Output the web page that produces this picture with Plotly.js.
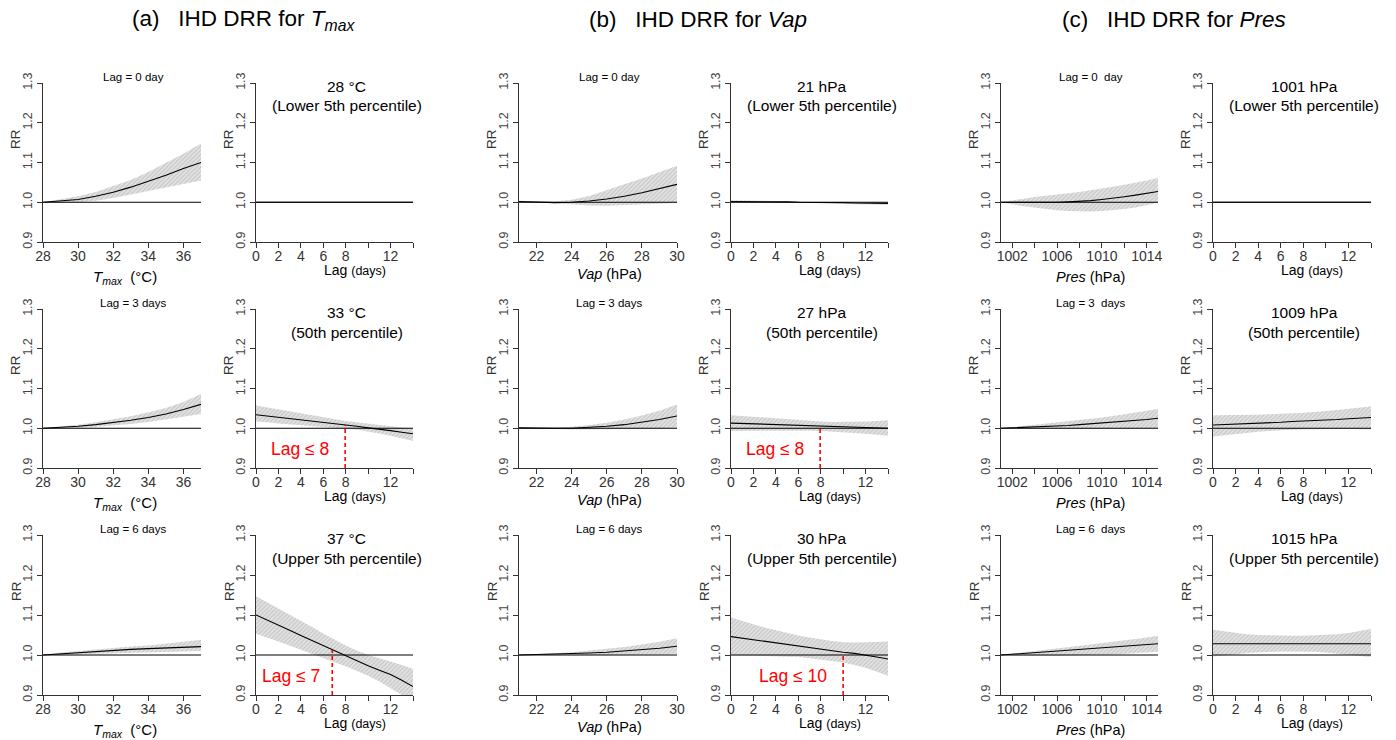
<!DOCTYPE html>
<html><head><meta charset="utf-8">
<script src="https://cdn.plot.ly/plotly-3.0.1.min.js"></script>
<style>html,body{margin:0;padding:0;background:#fff}#chart{width:1396px;height:740px}</style>
</head><body><div id="chart"></div>
<script>
// ---------------- DATA ----------------
const tmaxX = [28,29,30,31,32,33,34,35,36,37];
const vapX  = [21,22,23,24,25,26,27,28,29,30];
const presX = [1001,1002,1003,1004,1005,1006,1007,1008,1009,1010,1011,1012,1013,1014,1015];
const lagX  = [0,1,2,3,4,5,6,7,8,9,10,11,12,13,14];

// (a) Tmax exposure-response at lag 0, 3, 6
const tmaxLag0Fit = [1.000,1.003,1.007,1.015,1.025,1.038,1.052,1.068,1.085,1.100];
const tmaxLag0Lo  = [1.000,0.999,1.000,1.004,1.011,1.019,1.028,1.037,1.046,1.055];
const tmaxLag0Hi  = [1.000,1.007,1.015,1.026,1.040,1.056,1.076,1.098,1.122,1.148];
const tmaxLag3Fit = [1.000,1.002,1.005,1.009,1.014,1.020,1.027,1.036,1.047,1.060];
const tmaxLag3Lo  = [1.000,1.000,1.001,1.004,1.007,1.011,1.016,1.022,1.029,1.036];
const tmaxLag3Hi  = [1.000,1.004,1.009,1.015,1.022,1.030,1.040,1.051,1.066,1.086];
const tmaxLag6Fit = [1.000,1.003,1.006,1.009,1.012,1.014,1.016,1.018,1.020,1.021];
const tmaxLag6Lo  = [1.000,1.000,1.002,1.003,1.005,1.006,1.007,1.008,1.009,1.010];
const tmaxLag6Hi  = [1.000,1.006,1.010,1.014,1.018,1.021,1.024,1.028,1.033,1.038];
// (a) Tmax lag-response at 28, 33, 37 °C
const tmax28Fit = [1,1,1,1,1,1,1,1,1,1,1,1,1,1,1];
const tmax28Lo  = [1,1,1,1,1,1,1,1,1,1,1,1,1,1,1];
const tmax28Hi  = [1,1,1,1,1,1,1,1,1,1,1,1,1,1,1];
const tmax33Fit = [1.034,1.031,1.027,1.024,1.021,1.018,1.014,1.011,1.008,1.005,1.001,0.998,0.994,0.990,0.986];
const tmax33Hi  = [1.057,1.052,1.047,1.042,1.037,1.032,1.027,1.022,1.018,1.015,1.011,1.008,1.005,1.002,0.999];
const tmax33Lo  = [1.017,1.015,1.012,1.010,1.008,1.006,1.003,1.001,0.999,0.996,0.992,0.987,0.981,0.975,0.968];
const tmax37Fit = [1.100,1.088,1.075,1.062,1.049,1.036,1.023,1.010,0.998,0.986,0.973,0.962,0.951,0.937,0.921];
const tmax37Hi  = [1.147,1.132,1.117,1.101,1.086,1.070,1.054,1.038,1.024,1.011,1.000,0.992,0.984,0.975,0.965];
const tmax37Lo  = [1.053,1.044,1.034,1.024,1.013,1.002,0.992,0.982,0.972,0.961,0.948,0.934,0.918,0.900,0.880];

// (b) Vap exposure-response at lag 0, 3, 6
const vapLag0Fit = [1.002,1.001,0.999,1.000,1.003,1.008,1.015,1.024,1.034,1.045];
const vapLag0Lo  = [1.000,1.000,0.997,0.995,0.992,0.991,0.992,0.994,0.996,0.998];
const vapLag0Hi  = [1.004,1.002,1.002,1.006,1.016,1.030,1.045,1.060,1.076,1.092];
const vapLag3Fit = [1.001,1.000,1.000,1.000,1.002,1.005,1.009,1.015,1.022,1.031];
const vapLag3Lo  = [1.000,0.999,0.998,0.997,0.997,0.997,0.998,0.999,1.000,1.002];
const vapLag3Hi  = [1.002,1.001,1.002,1.004,1.008,1.014,1.022,1.032,1.044,1.060];
const vapLag6Fit = [1.000,1.001,1.002,1.003,1.005,1.007,1.010,1.013,1.017,1.022];
const vapLag6Lo  = [1.000,1.000,1.000,1.000,1.000,1.000,1.001,1.001,1.002,1.003];
const vapLag6Hi  = [1.000,1.002,1.004,1.007,1.011,1.015,1.020,1.026,1.033,1.042];
// (b) Vap lag-response at 21, 27, 30 hPa
const vap21Fit = [1.002,1.002,1.002,1.001,1.001,1.001,1.000,1.000,0.999,0.999,0.999,0.998,0.998,0.997,0.997];
const vap21Lo  = [0.999,0.999,0.999,0.999,0.999,0.999,0.998,0.998,0.997,0.997,0.996,0.995,0.995,0.994,0.994];
const vap21Hi  = [1.005,1.005,1.004,1.004,1.003,1.003,1.002,1.002,1.001,1.001,1.001,1.001,1.001,1.000,1.000];
const vap27Fit = [1.013,1.012,1.011,1.010,1.009,1.008,1.007,1.006,1.005,1.004,1.003,1.002,1.002,1.001,1.000];
const vap27Hi  = [1.033,1.031,1.028,1.026,1.024,1.022,1.020,1.018,1.017,1.016,1.016,1.016,1.017,1.018,1.020];
const vap27Lo  = [0.993,0.993,0.994,0.994,0.994,0.994,0.994,0.994,0.993,0.992,0.990,0.988,0.986,0.984,0.981];
const vap30Fit = [1.046,1.042,1.038,1.034,1.030,1.026,1.022,1.018,1.014,1.010,1.007,1.004,1.000,0.995,0.990];
const vap30Hi  = [1.094,1.085,1.077,1.069,1.062,1.055,1.049,1.044,1.039,1.035,1.032,1.031,1.032,1.033,1.034];
const vap30Lo  = [0.999,0.999,0.998,0.998,0.997,0.996,0.995,0.992,0.989,0.985,0.981,0.975,0.968,0.959,0.948];

// (c) Pres exposure-response at lag 0, 3, 6
const presLag0Fit = [1.000,1.000,0.999,0.999,0.999,1.000,1.001,1.002,1.004,1.007,1.010,1.014,1.018,1.022,1.027];
const presLag0Hi  = [1.000,1.005,1.009,1.013,1.016,1.019,1.022,1.026,1.030,1.034,1.039,1.044,1.049,1.055,1.061];
const presLag0Lo  = [1.000,0.995,0.990,0.986,0.983,0.980,0.978,0.977,0.977,0.978,0.980,0.983,0.987,0.993,0.999];
const presLag3Fit = [1.000,1.001,1.002,1.003,1.004,1.006,1.007,1.009,1.011,1.013,1.015,1.017,1.020,1.022,1.025];
const presLag3Hi  = [1.000,1.003,1.005,1.008,1.011,1.014,1.017,1.020,1.024,1.027,1.031,1.035,1.040,1.044,1.049];
const presLag3Lo  = [1.000,0.999,0.998,0.998,0.998,0.998,0.998,0.998,0.998,0.999,0.999,1.000,1.000,1.000,1.001];
const presLag6Fit = [1.000,1.002,1.004,1.006,1.008,1.010,1.012,1.014,1.016,1.018,1.020,1.022,1.024,1.026,1.028];
const presLag6Hi  = [1.000,1.004,1.007,1.010,1.013,1.016,1.019,1.023,1.026,1.030,1.033,1.037,1.040,1.044,1.048];
const presLag6Lo  = [1.000,0.999,0.998,0.998,0.998,0.998,0.999,0.999,1.000,1.001,1.002,1.003,1.005,1.006,1.008];
// (c) Pres lag-response at 1001, 1009, 1015 hPa
const pres1001Fit = [1,1,1,1,1,1,1,1,1,1,1,1,1,1,1];
const pres1001Lo  = [1,1,1,1,1,1,1,1,1,1,1,1,1,1,1];
const pres1001Hi  = [1,1,1,1,1,1,1,1,1,1,1,1,1,1,1];
const pres1009Fit = [1.008,1.009,1.010,1.011,1.013,1.014,1.015,1.017,1.018,1.019,1.021,1.022,1.024,1.025,1.027];
const pres1009Hi  = [1.033,1.033,1.033,1.033,1.034,1.035,1.036,1.037,1.039,1.041,1.043,1.046,1.049,1.052,1.055];
const pres1009Lo  = [0.979,0.982,0.985,0.988,0.991,0.993,0.995,0.996,0.997,0.998,0.998,0.998,0.998,0.998,0.997];
const pres1015Fit = [1.028,1.028,1.028,1.028,1.028,1.028,1.028,1.028,1.028,1.028,1.028,1.028,1.028,1.028,1.028];
const pres1015Hi  = [1.063,1.059,1.055,1.052,1.050,1.049,1.048,1.048,1.048,1.049,1.050,1.052,1.055,1.060,1.065];
const pres1015Lo  = [0.996,0.999,1.002,1.005,1.007,1.008,1.009,1.009,1.009,1.008,1.006,1.004,1.001,0.998,0.995];

// labels
const columnTitles = ['(a)\u00a0\u00a0\u00a0IHD DRR for <i>T</i><sub><i>max</i></sub>', '(b)\u00a0\u00a0\u00a0IHD DRR for <i>Vap</i>', '(c)\u00a0\u00a0\u00a0IHD DRR for <i>Pres</i>'];
const lagLabels   = ['Lag = 0 day','Lag = 3 days','Lag = 6 days'];
const presLagLabels = ['Lag = 0\u00a0\u00a0day','Lag = 3\u00a0\u00a0days','Lag = 6\u00a0\u00a0days'];
const tmaxLevels  = ['28 °C','33 °C','37 °C'];
const vapLevels   = ['21 hPa','27 hPa','30 hPa'];
const presLevels  = ['1001 hPa','1009 hPa','1015 hPa'];
const pctLabels   = ['(Lower 5th percentile)','(50th percentile)','(Upper 5th percentile)'];
const tmaxTicks = [28,30,32,34,36];
const vapTicks  = [22,24,26,28,30];
const presTicks = [1002,1006,1010,1014];
const presMinorTicks = [1004,1008,1012];
const lagTicks  = [0,2,4,6,8,12];
const lagMinorTicks = [10,14];
const rrTicks = [0.9,1.0,1.1,1.2,1.3];
const refRR = 1.0;
// significant-lag cut-offs: [row, col, lag, label]
const cutoffs = [[1,1,7.95,'Lag ≤ 8'],[2,1,6.8,'Lag ≤ 7'],[1,3,7.95,'Lag ≤ 8'],[2,3,10.0,'Lag ≤ 10']];

// ---------------- LAYOUT ----------------
const W=1396,H=740;
const FONT='Liberation Sans, Arial, sans-serif';
const colPx=[[43,201],[256,413],[519,677],[731,888],[1001,1158],[1213,1371]];
const rowPx=[[83,242],[309,468],[535,695]];
const fx=p=>p/W, fy=p=>1-p/H;

const grid = [
 [[tmaxX,tmaxLag0Fit,tmaxLag0Lo,tmaxLag0Hi],[lagX,tmax28Fit,tmax28Lo,tmax28Hi],[vapX,vapLag0Fit,vapLag0Lo,vapLag0Hi],[lagX,vap21Fit,vap21Lo,vap21Hi],[presX,presLag0Fit,presLag0Lo,presLag0Hi],[lagX,pres1001Fit,pres1001Lo,pres1001Hi]],
 [[tmaxX,tmaxLag3Fit,tmaxLag3Lo,tmaxLag3Hi],[lagX,tmax33Fit,tmax33Lo,tmax33Hi],[vapX,vapLag3Fit,vapLag3Lo,vapLag3Hi],[lagX,vap27Fit,vap27Lo,vap27Hi],[presX,presLag3Fit,presLag3Lo,presLag3Hi],[lagX,pres1009Fit,pres1009Lo,pres1009Hi]],
 [[tmaxX,tmaxLag6Fit,tmaxLag6Lo,tmaxLag6Hi],[lagX,tmax37Fit,tmax37Lo,tmax37Hi],[vapX,vapLag6Fit,vapLag6Lo,vapLag6Hi],[lagX,vap30Fit,vap30Lo,vap30Hi],[presX,presLag6Fit,presLag6Lo,presLag6Hi],[lagX,pres1015Fit,pres1015Lo,pres1015Hi]]
];

const minorStyle = {ticks:'outside',ticklen:5,tickwidth:1,tickcolor:'#333',showgrid:false,tickmode:'array'};
const xAxisSpec = [
 {range:[28,37], tickvals:tmaxTicks},
 {range:[0,14], tickvals:lagTicks, minor:Object.assign({tickvals:lagMinorTicks},minorStyle)},
 {range:[21,30], tickvals:vapTicks},
 {range:[0,14], tickvals:lagTicks, minor:Object.assign({tickvals:lagMinorTicks},minorStyle)},
 {range:[1001,1015], tickvals:presTicks, minor:Object.assign({tickvals:presMinorTicks},minorStyle)},
 {range:[0,14], tickvals:lagTicks, minor:Object.assign({tickvals:lagMinorTicks},minorStyle)}
];
const xTitles = [
 {t:'<i>T</i><sub><i>max</i></sub>\u00a0 (°C)', dx:3, dy:35, s:15},
 {t:'Lag <span style="font-size:12.5px">(days)</span>', dx:20, dy:28, s:14},
 {t:'<i>Vap</i> (hPa)', dx:11, dy:32, s:14.5},
 {t:'Lag <span style="font-size:12.5px">(days)</span>', dx:20, dy:28, s:14},
 {t:'<i>Pres</i> (hPa)', dx:11, dy:35, s:14.5},
 {t:'Lag <span style="font-size:12.5px">(days)</span>', dx:20, dy:28, s:14}
];

const interp=(xs,ys,v)=>{for(let i=0;i<xs.length-1;i++){if(v>=xs[i]&&v<=xs[i+1]){const t=(v-xs[i])/(xs[i+1]-xs[i]);return ys[i]+t*(ys[i+1]-ys[i]);}}return ys[ys.length-1];};

const data=[], annotations=[];
const layout={width:W,height:H,margin:{l:0,r:0,t:0,b:0},paper_bgcolor:'#fff',plot_bgcolor:'#fff',showlegend:false,font:{family:FONT,color:'#000'}};

const axBase={showline:true,linecolor:'#333',linewidth:1,ticks:'outside',ticklen:5,tickwidth:1,tickcolor:'#333',showgrid:false,zeroline:false,fixedrange:true};

for(let r=0;r<3;r++){
 for(let c=0;c<6;c++){
  const n=r*6+c+1, xs=n===1?'':n, xa='x'+xs, ya='y'+xs;
  const [X,F,L,U]=grid[r][c];
  layout['xaxis'+xs]=Object.assign({},axBase,xAxisSpec[c],{tickmode:'array',anchor:ya,domain:[fx(colPx[c][0]),fx(colPx[c][1])],ticklabelstandoff:-4,tickfont:{family:FONT,size:14,color:'#333'}});
  layout['yaxis'+xs]=Object.assign({},axBase,{anchor:xa,range:[0.9,1.3],tickmode:'array',tickvals:rrTicks,tickformat:'.1f',tickangle:-90,domain:[fy(rowPx[r][1]),fy(rowPx[r][0])],tickfont:{family:FONT,size:12.5,color:'#444'}});
  // CI band
  data.push({x:X.concat(X.slice().reverse()),y:U.concat(L.slice().reverse()),xaxis:xa,yaxis:ya,type:'scatter',mode:'lines',fill:'toself',line:{width:0,color:'rgba(0,0,0,0)'},fillcolor:'#dcdcdc',fillpattern:{shape:'/',bgcolor:'#e2e2e2',fgcolor:'#c0c0c0',size:3,solidity:0.3},hoverinfo:'skip'});
  // reference line
  data.push({x:[X[0],X[X.length-1]],y:[refRR,refRR],xaxis:xa,yaxis:ya,type:'scatter',mode:'lines',line:{color:'#000',width:1},hoverinfo:'skip'});
  // fit
  data.push({x:X,y:F,xaxis:xa,yaxis:ya,type:'scatter',mode:'lines',line:{color:'#000',width:1.1},hoverinfo:'skip'});
  const cx=(colPx[c][0]+colPx[c][1])/2, top=rowPx[r][0], bot=rowPx[r][1];
  // RR label
  annotations.push({text:'RR',xref:'paper',yref:'paper',x:fx(colPx[c][0]-27),y:fy(top+56),textangle:-90,showarrow:false,font:{size:13.5,color:'#333'},xanchor:'center',yanchor:'middle'});
  // x title
  const xt=xTitles[c];
  annotations.push({text:xt.t,xref:'paper',yref:'paper',x:fx(cx+xt.dx),y:fy(bot+xt.dy),showarrow:false,font:{size:xt.s,color:'#000'},xanchor:'center',yanchor:'middle'});
  if(c%2===0){
   const lab=(c===4?presLagLabels:lagLabels)[r];
   annotations.push({text:lab,xref:'paper',yref:'paper',x:fx(cx+11),y:fy(top-6),showarrow:false,font:{size:11.5,color:'#000'},xanchor:'center',yanchor:'middle'});
  } else {
   const lev=[tmaxLevels,vapLevels,presLevels][(c-1)/2][r];
   annotations.push({text:lev,xref:'paper',yref:'paper',x:fx(cx+12),y:fy(top+3),showarrow:false,font:{size:15.5,color:'#000'},xanchor:'center',yanchor:'middle'});
   annotations.push({text:pctLabels[r],xref:'paper',yref:'paper',x:fx(cx+12),y:fy(top+23),showarrow:false,font:{size:15.5,color:'#000'},xanchor:'center',yanchor:'middle'});
  }
 }
}
// cut-off markers
cutoffs.forEach(([r,c,lag,lab])=>{
 const n=r*6+c+1, xs=n===1?'':n;
 const [X,F]=grid[r][c];
 data.push({x:[lag,lag],y:[0.9,interp(X,F,lag)],xaxis:'x'+xs,yaxis:'y'+xs,type:'scatter',mode:'lines',line:{color:'#ff0000',width:1.6,dash:'4px,3px'},hoverinfo:'skip'});
 annotations.push({text:lab,xref:'paper',yref:'paper',x:fx(colPx[c][0]+ (lab==='Lag ≤ 10'?62:44) - (r===2&&c===1?9:0)),y:fy(rowPx[r][1]-19),showarrow:false,font:{size:17.5,color:'#ff0000'},xanchor:'center',yanchor:'middle'});
});
// column titles
[243,698,1174].forEach((px,i)=>annotations.push({text:columnTitles[i],xref:'paper',yref:'paper',x:fx(px),y:fy(20),showarrow:false,font:{size:22.5,color:'#000'},xanchor:'center',yanchor:'middle'}));
layout.annotations=annotations;
Plotly.newPlot('chart',data,layout,{displayModeBar:false,staticPlot:true});
</script></body></html>
